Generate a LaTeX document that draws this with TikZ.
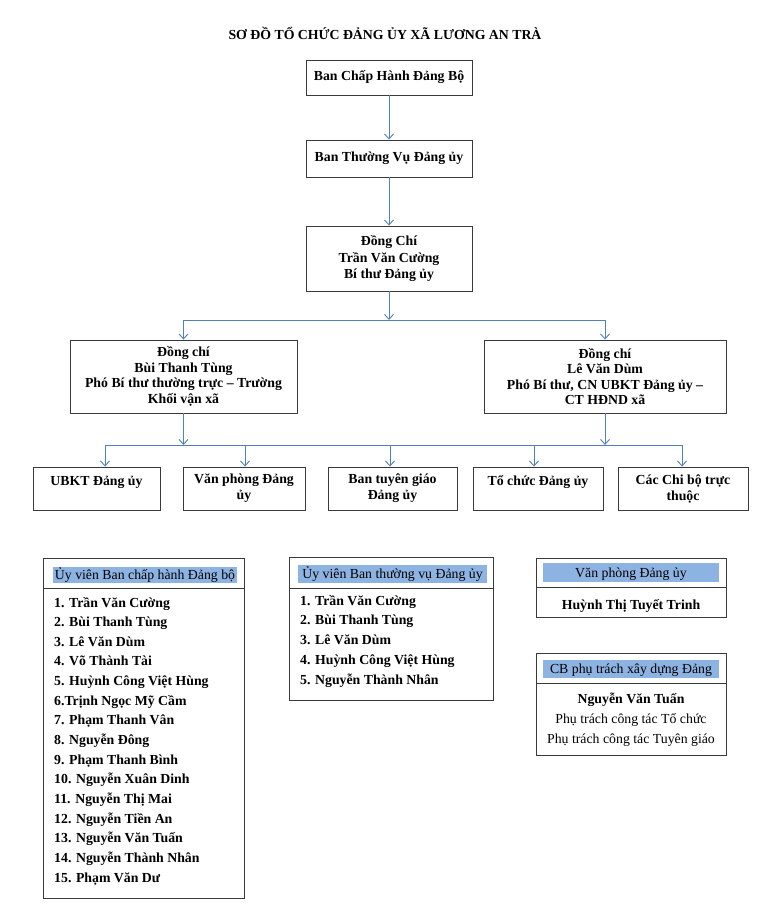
\documentclass[tikz,border=0pt]{standalone}
\usepackage{fontspec}
\setmainfont{Liberation Serif}
\usetikzlibrary{arrows.meta}
\definecolor{connc}{HTML}{4F81BD}
\definecolor{hlc}{HTML}{8DB3E2}
\definecolor{bdc}{HTML}{3A3A3A}
\begin{document}
\begin{tikzpicture}[x=1pt,y=-1pt,
  every node/.style={font=\fontsize{13.8}{16}\selectfont, inner sep=0pt},
  box/.style={draw=bdc, line width=0.9pt, align=center, font=\bfseries\fontsize{13.8}{16}\selectfont},
  listbox/.style={draw=bdc, line width=0.9pt, anchor=north west},
  hdr/.style={fill=hlc, text height=11pt, text depth=2pt},
  item/.style={font=\bfseries\fontsize{13.8}{16}\selectfont, anchor=base west},
  conn/.style={draw=connc, line width=0.9pt},
  arr/.style={conn, -{Straight Barb[length=5pt,width=9pt]}},
  sep/.style={draw=bdc, line width=0.9pt}]
\useasboundingbox (0,0) rectangle (770,905);
\fill[white] (0,0) rectangle (770,905);

\node[font=\bfseries\fontsize{13.8}{16}\selectfont] (title) at (385,33) {SƠ ĐỒ TỔ CHỨC ĐẢNG ỦY XÃ LƯƠNG AN TRÀ};

\node[box, minimum width=166pt, minimum height=35pt] (b1) at (389,77.5) {Ban Chấp Hành Đảng Bộ};
\node[box, minimum width=166pt, minimum height=37pt] (b2) at (389,158.5) {Ban Thường Vụ Đảng ủy};
\node[box, minimum width=166pt, minimum height=65pt, font=\bfseries\fontsize{13.8}{16.5}\selectfont] (b3) at (389,258.5) {Đồng Chí\\Trần Văn Cường\\Bí thư Đảng ủy};

\node[box, minimum width=227pt, minimum height=73pt, font=\bfseries\fontsize{13.8}{15.5}\selectfont] (lm) at (183.5,376.5) {Đồng chí\\Bùi Thanh Tùng\\Phó Bí thư thường trực – Trường\\Khối vận xã};
\node[box, minimum width=242pt, minimum height=73pt, font=\bfseries\fontsize{13.8}{15.5}\selectfont] (rm) at (605,376.5) {Đồng chí\\Lê Văn Dùm\\Phó Bí thư, CN UBKT Đảng ủy –\\CT HĐND xã};

\node[box, minimum width=127pt, minimum height=43pt] (c1) at (96.5,488.5) {UBKT Đảng ủy\\\mbox{}};
\node[box, minimum width=122pt, minimum height=43pt] (c2) at (244,488.5) {Văn phòng Đảng\\ủy};
\node[box, minimum width=129pt, minimum height=43pt] (c3) at (392.5,488.5) {Ban tuyên giáo\\Đảng ủy};
\node[box, minimum width=130pt, minimum height=43pt] (c4) at (538,488.5) {Tổ chức Đảng ủy\\\mbox{}};
\node[box, minimum width=130pt, minimum height=43pt] (c5) at (683,488.5) {Các Chi bộ trực\\thuộc};

% connectors
\coordinate (j1) at (389,320);
\coordinate (j2) at (389,445);
\draw[arr] (b1) -- (b2);
\draw[arr] (b2) -- (b3);
\draw[arr] (b3.south) -- (j1);
\draw[conn] (lm.north |- j1) -- (rm.north |- j1);
\draw[arr] (lm.north |- j1) -- (lm.north);
\draw[arr] (rm.north |- j1) -- (rm.north);
\draw[arr] (lm.south) -- (lm.south |- j2);
\draw[arr] (rm.south) -- (rm.south |- j2);
\coordinate (t1) at (105,445);
\coordinate (t2) at (245,445);
\coordinate (t3) at (390,445);
\coordinate (t4) at (534,445);
\coordinate (t5) at (682,445);
\draw[conn] (t1) -- (t5);
\foreach \i in {1,...,5} \draw[arr] (t\i) -- (t\i |- c\i.north);

% left list
\node[listbox, minimum width=201pt, minimum height=340pt] (L) at (43,558) {};
\node[hdr, minimum width=184pt, minimum height=16pt] (Lh) at (145,575) {Ủy viên Ban chấp hành Đảng bộ};
\draw[sep] (43,588) -- (244,588);
\foreach \t [count=\i] in {1. Trần Văn Cường, 2. Bùi Thanh Tùng, 3. Lê Văn Dùm, 4. Võ Thành Tài, 5. Huỳnh Công Việt Hùng, 6.Trịnh Ngọc Mỹ Cầm, 7. Phạm Thanh Vân, 8. Nguyễn Đông, 9. Phạm Thanh Bình, 10. Nguyễn Xuân Dinh, 11. Nguyễn Thị Mai, 12. Nguyễn Tiền An, 13. Nguyễn Văn Tuấn, 14. Nguyễn Thành Nhân, 15. Phạm Văn Dư}
  \node[item] (la\i) at (54,{607+19.65*(\i-1)}) {\t};

% middle list
\node[listbox, minimum width=204pt, minimum height=143pt] (M) at (289,557) {};
\node[hdr, minimum width=189pt, minimum height=18pt] (Mh) at (392.5,574) {Ủy viên Ban thường vụ Đảng ủy};
\draw[sep] (289,588) -- (493,588);
\foreach \t [count=\i] in {1. Trần Văn Cường, 2. Bùi Thanh Tùng, 3. Lê Văn Dùm, 4. Huỳnh Công Việt Hùng, 5. Nguyễn Thành Nhân}
  \node[item] (ma\i) at (300,{605+19.75*(\i-1)}) {\t};

% right boxes
\node[listbox, minimum width=190pt, minimum height=59pt] (R1) at (536,558) {};
\node[hdr, minimum width=176pt, minimum height=19pt] (R1h) at (631,572.5) {Văn phòng Đảng ủy};
\draw[sep] (536,587) -- (726,587);
\node[font=\bfseries\fontsize{13.8}{16}\selectfont, anchor=base] (r1a) at (631,609) {Huỳnh Thị Tuyết Trinh};

\node[listbox, minimum width=190pt, minimum height=102pt] (R2) at (536,653) {};
\node[hdr, minimum width=176pt, minimum height=18pt] (R2h) at (631,669) {CB phụ trách xây dựng Đảng};
\draw[sep] (536,683) -- (726,683);
\node[font=\bfseries\fontsize{13.8}{16}\selectfont, anchor=base] (r2a) at (631,703) {Nguyễn Văn Tuấn};
\node[anchor=base] (r2b) at (631,723) {Phụ trách công tác Tổ chức};
\node[anchor=base] (r2c) at (631,743) {Phụ trách công tác Tuyên giáo};
\end{tikzpicture}
\end{document}
